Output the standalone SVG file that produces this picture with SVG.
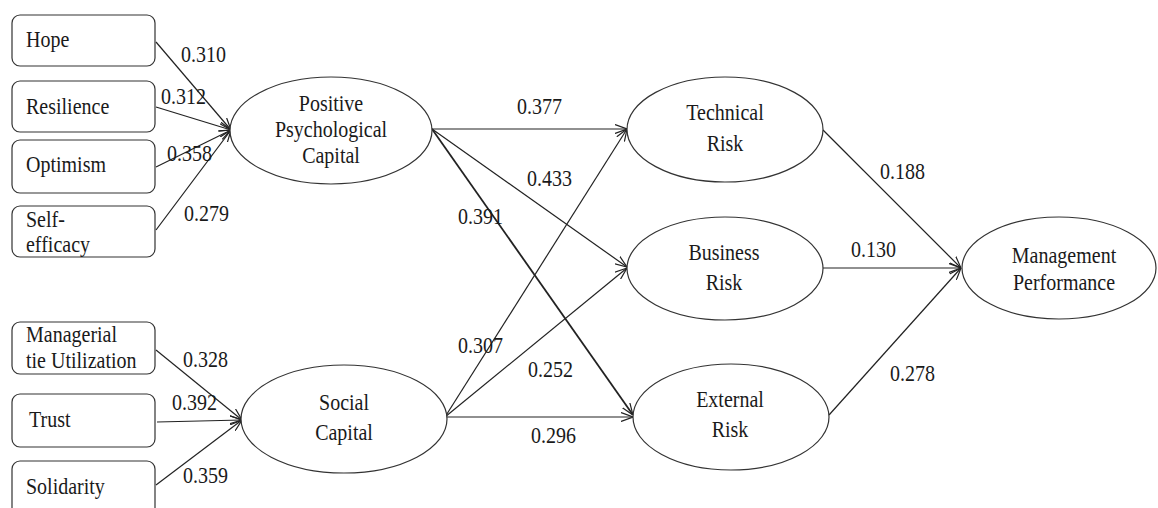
<svg xmlns="http://www.w3.org/2000/svg" width="1158" height="508" viewBox="0 0 1158 508">
<defs>
<style>
.box{fill:#fff;stroke:#333;stroke-width:1.2}
.ell{fill:#fff;stroke:#333;stroke-width:1.2}
.edge{stroke:#222;stroke-width:1.2;fill:none;marker-end:url(#arr)}
.bold{stroke-width:1.8}
.c{text-anchor:middle}
</style>
<marker id="arr" viewBox="0 0 12 10" refX="12" refY="5" markerWidth="12" markerHeight="10" markerUnits="userSpaceOnUse" orient="auto">
<path d="M0,0.5 L12,5 L0,9.5" fill="none" stroke="#222" stroke-width="1.2"/>
</marker>
</defs>
<rect width="1158" height="508" fill="#fff"/>
<g font-family="Liberation Serif, Times New Roman, serif" font-size="20" fill="#1a1a1a">
<g id="connectors">
<line class="edge" x1="156" y1="42" x2="231" y2="130"/>
<line class="edge" x1="156" y1="107" x2="231" y2="130"/>
<line class="edge" x1="156" y1="167" x2="231" y2="130"/>
<line class="edge" x1="156" y1="230" x2="231" y2="130"/>
<line class="edge" x1="156" y1="350" x2="242" y2="420"/>
<line class="edge" x1="157" y1="422" x2="242" y2="420"/>
<line class="edge" x1="156" y1="485" x2="242" y2="420"/>
<line class="edge" x1="432" y1="129" x2="627" y2="129"/>
<line class="edge" x1="432" y1="129" x2="627" y2="267"/>
<line class="edge bold" x1="432" y1="129" x2="633" y2="415"/>
<line class="edge" x1="445" y1="417" x2="627" y2="129"/>
<line class="edge" x1="445" y1="417" x2="627" y2="268"/>
<line class="edge" x1="445" y1="417" x2="633" y2="417"/>
<line class="edge" x1="823" y1="130" x2="961" y2="268"/>
<line class="edge" x1="823" y1="268" x2="961" y2="268"/>
<line class="edge" x1="829" y1="415" x2="961" y2="268"/>
<g id="edge-labels">
<text transform="translate(181 62) scale(1 1.15)">0.310</text>
<text transform="translate(161 104) scale(1 1.15)">0.312</text>
<text transform="translate(167 161) scale(1 1.15)">0.358</text>
<text transform="translate(184 221) scale(1 1.15)">0.279</text>
<text transform="translate(183 367) scale(1 1.15)">0.328</text>
<text transform="translate(172 410) scale(1 1.15)">0.392</text>
<text transform="translate(183 483) scale(1 1.15)">0.359</text>
<text transform="translate(517 114) scale(1 1.15)">0.377</text>
<text transform="translate(527 186) scale(1 1.15)">0.433</text>
<text transform="translate(458 224) scale(1 1.15)">0.391</text>
<text transform="translate(458 353) scale(1 1.15)">0.307</text>
<text transform="translate(528 377) scale(1 1.15)">0.252</text>
<text transform="translate(531 443) scale(1 1.15)">0.296</text>
<text transform="translate(880 179) scale(1 1.15)">0.188</text>
<text transform="translate(851 257) scale(1 1.15)">0.130</text>
<text transform="translate(890 381) scale(1 1.15)">0.278</text>
</g>
</g>

<g id="hope"><rect class="box" x="12" y="15" width="143" height="51" rx="8"/><text transform="translate(26 47) scale(1 1.15)">Hope</text></g>
<g id="resilience"><rect class="box" x="12" y="81" width="143" height="51" rx="8"/><text transform="translate(26 114) scale(1 1.15)">Resilience</text></g>
<g id="optimism"><rect class="box" x="12" y="140" width="143" height="53" rx="8"/><text transform="translate(26 172) scale(1 1.15)">Optimism</text></g>
<g id="self-efficacy"><rect class="box" x="12" y="206" width="143" height="51" rx="8"/><text transform="translate(26 227) scale(1 1.15)">Self-</text><text transform="translate(26 252) scale(1 1.15)">efficacy</text></g>
<g id="managerial"><rect class="box" x="12" y="322" width="143" height="52" rx="8"/><text transform="translate(26 342) scale(1 1.15)">Managerial</text><text transform="translate(26 368) scale(1 1.15)">tie Utilization</text></g>
<g id="trust"><rect class="box" x="12" y="394" width="143" height="53" rx="8"/><text transform="translate(29 427) scale(1 1.15)">Trust</text></g>
<g id="solidarity"><rect class="box" x="12" y="461" width="143" height="60" rx="8"/><text transform="translate(26 494) scale(1 1.15)">Solidarity</text></g>

<g id="ppc"><ellipse class="ell" cx="331" cy="130.5" rx="101" ry="53.5"/><text class="c" transform="translate(331 111) scale(1 1.15)">Positive</text><text class="c" transform="translate(331 137) scale(1 1.15)">Psychological</text><text class="c" transform="translate(331 163) scale(1 1.15)">Capital</text></g>
<g id="social-capital"><ellipse class="ell" cx="344" cy="419" rx="103" ry="54"/><text class="c" transform="translate(344 410) scale(1 1.15)">Social</text><text class="c" transform="translate(344 440) scale(1 1.15)">Capital</text></g>
<g id="technical-risk"><ellipse class="ell" cx="725" cy="129.5" rx="98" ry="52.5"/><text class="c" transform="translate(725 120) scale(1 1.15)">Technical</text><text class="c" transform="translate(725 151) scale(1 1.15)">Risk</text></g>
<g id="business-risk"><ellipse class="ell" cx="725" cy="268.5" rx="98" ry="51.5"/><text class="c" transform="translate(724 260) scale(1 1.15)">Business</text><text class="c" transform="translate(724 290) scale(1 1.15)">Risk</text></g>
<g id="external-risk"><ellipse class="ell" cx="731" cy="417" rx="98" ry="53"/><text class="c" transform="translate(730 407) scale(1 1.15)">External</text><text class="c" transform="translate(730 437) scale(1 1.15)">Risk</text></g>
<g id="management-performance"><ellipse class="ell" cx="1059" cy="268" rx="97" ry="51"/><text class="c" transform="translate(1064 263) scale(1 1.15)">Management</text><text class="c" transform="translate(1064 290) scale(1 1.15)">Performance</text></g>
</g>
</svg>
